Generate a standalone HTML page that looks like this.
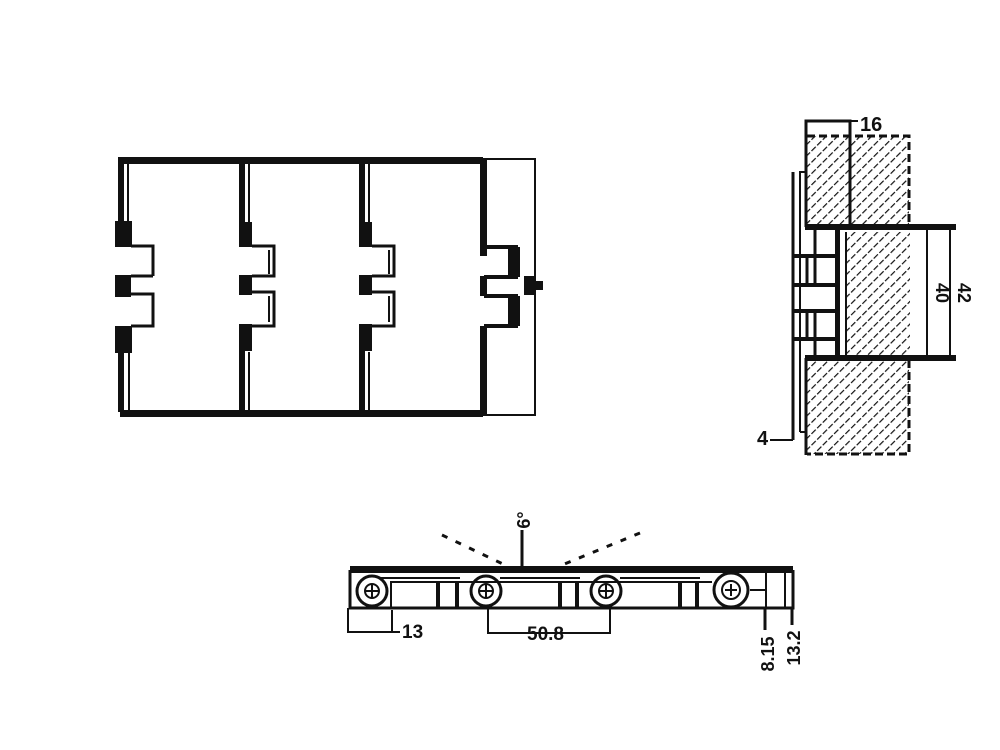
<!DOCTYPE html>
<html><head><meta charset="utf-8"><style>
html,body{margin:0;padding:0;background:#fff;}
svg{display:block}
text{font-family:"Liberation Sans",sans-serif;font-weight:bold;fill:#111}
</style></head><body>
<svg width="1000" height="750" viewBox="0 0 1000 750" xmlns="http://www.w3.org/2000/svg">
<defs>
<pattern id="h" width="8" height="8" patternUnits="userSpaceOnUse" patternTransform="rotate(45)">
<line x1="0" y1="0" x2="0" y2="8" stroke="#111" stroke-width="2.4" stroke-dasharray="5 2"/>
</pattern>
</defs>
<g stroke="#111" fill="none">
<!-- TOP VIEW -->
<rect x="118" y="157" width="365" height="7" fill="#111" stroke="none"/>
<rect x="120" y="410" width="363" height="7" fill="#111" stroke="none"/>
<line x1="483" y1="159" x2="536" y2="159" stroke-width="2"/>
<line x1="483" y1="415" x2="536" y2="415" stroke-width="2"/>
<line x1="535" y1="160" x2="535" y2="415" stroke-width="2"/>
<rect x="524" y="276" width="10" height="19" fill="#111" stroke="none"/>
<rect x="534" y="281" width="9" height="9" fill="#111" stroke="none"/>
<!-- left column -->
<rect x="118" y="160" width="6" height="62" fill="#111" stroke="none"/>
<line x1="128" y1="164" x2="128" y2="222" stroke-width="2"/>
<rect x="115" y="221" width="17" height="26" fill="#111" stroke="none"/>
<path d="M131 246 H153 V276 M131 294 H153 V326 H131" stroke-width="3"/>
<rect x="115" y="275" width="16" height="22" fill="#111" stroke="none"/>
<rect x="115" y="326" width="17" height="27" fill="#111" stroke="none"/>
<rect x="118" y="350" width="6" height="62" fill="#111" stroke="none"/>
<line x1="129" y1="352" x2="129" y2="410" stroke-width="2"/>
<line x1="131" y1="276" x2="153" y2="276" stroke-width="3"/>
<!-- columns 2,3 -->
<g id="c2">
<rect x="239" y="160" width="6" height="62" fill="#111" stroke="none"/>
<line x1="249" y1="164" x2="249" y2="222" stroke-width="2"/>
<rect x="239" y="222" width="13" height="25" fill="#111" stroke="none"/>
<path d="M252 246 H274 V276 H252 M252 292 H274 V326 H252" stroke-width="3"/>
<line x1="269" y1="250" x2="269" y2="274" stroke-width="2"/>
<line x1="269" y1="296" x2="269" y2="322" stroke-width="2"/>
<rect x="239" y="275" width="13" height="20" fill="#111" stroke="none"/>
<rect x="239" y="324" width="13" height="27" fill="#111" stroke="none"/>
<rect x="239" y="350" width="6" height="62" fill="#111" stroke="none"/>
<line x1="249" y1="352" x2="249" y2="410" stroke-width="2"/>
</g>
<use href="#c2" x="120"/>
<!-- column 4 -->
<rect x="480" y="160" width="7" height="96" fill="#111" stroke="none"/>
<path d="M484 247 H516 V277 H484 M484 296 H516 V326 H484" stroke-width="4"/>
<rect x="508" y="247" width="12" height="30" fill="#111" stroke="none"/>
<rect x="508" y="296" width="12" height="30" fill="#111" stroke="none"/>
<rect x="480" y="276" width="7" height="20" fill="#111" stroke="none"/>
<rect x="480" y="326" width="7" height="88" fill="#111" stroke="none"/>

<!-- SIDE VIEW -->
<rect x="807" y="136" width="102" height="91" fill="url(#h)" stroke="none"/>
<rect x="846" y="232" width="64" height="126" fill="url(#h)" stroke="none"/>
<rect x="807" y="360" width="102" height="94" fill="url(#h)" stroke="none"/>
<path d="M807 136 H909 V227 M909 360 V454 H807" stroke-dasharray="8 4" stroke-width="3"/>
<path d="M806 227 V121 H850 V227" stroke-width="3"/>
<line x1="850" y1="121" x2="858" y2="121" stroke-width="2"/>
<line x1="806" y1="358" x2="806" y2="455" stroke-width="3"/>
<rect x="805" y="224" width="151" height="6" fill="#111" stroke="none"/>
<rect x="805" y="355" width="151" height="6" fill="#111" stroke="none"/>
<rect x="835" y="230" width="5" height="126" fill="#111" stroke="none"/>
<line x1="846" y1="232" x2="846" y2="356" stroke-width="2"/>
<path d="M800 432 V172 H806" stroke-width="2"/>
<line x1="793" y1="172" x2="793" y2="440" stroke-width="3"/>
<path d="M793 440 H770" stroke-width="2"/>
<line x1="800" y1="432" x2="806" y2="432" stroke-width="2"/>
<g stroke-width="4">
<line x1="793" y1="256" x2="838" y2="256"/>
<line x1="793" y1="285" x2="838" y2="285"/>
<line x1="793" y1="311" x2="838" y2="311"/>
<line x1="793" y1="339" x2="838" y2="339"/>
</g>
<g stroke-width="3">
<line x1="807" y1="256" x2="807" y2="285"/><line x1="815" y1="256" x2="815" y2="285"/>
<line x1="807" y1="311" x2="807" y2="339"/><line x1="815" y1="311" x2="815" y2="339"/>
<line x1="815" y1="230" x2="815" y2="256"/><line x1="815" y1="339" x2="815" y2="356"/>
</g>
<line x1="927" y1="230" x2="927" y2="356" stroke-width="2"/>
<line x1="950" y1="230" x2="950" y2="356" stroke-width="2"/>
<!-- BOTTOM VIEW -->
<rect x="350" y="566" width="443" height="7" fill="#111" stroke="none"/>
<path d="M350 570 V608 H793 V570" stroke-width="3"/>
<line x1="380" y1="578" x2="460" y2="578" stroke-width="2"/>
<line x1="500" y1="578" x2="580" y2="578" stroke-width="2"/>
<line x1="620" y1="578" x2="700" y2="578" stroke-width="2"/>
<line x1="390" y1="582" x2="712" y2="582" stroke-width="2"/>
<g stroke-width="4">
<line x1="438" y1="582" x2="438" y2="608"/><line x1="457" y1="582" x2="457" y2="608"/>
<line x1="560" y1="582" x2="560" y2="608"/><line x1="577" y1="582" x2="577" y2="608"/>
<line x1="680" y1="582" x2="680" y2="608"/><line x1="697" y1="582" x2="697" y2="608"/>
<line x1="391" y1="582" x2="391" y2="608" stroke-width="2"/>
</g>
<g stroke-width="3">
<circle cx="372" cy="591" r="15"/><circle cx="486" cy="591" r="15"/>
<circle cx="606" cy="591" r="15"/><circle cx="731" cy="590" r="17"/>
<circle cx="731" cy="590" r="9" stroke-width="2"/>
</g>
<g stroke-width="2">
<path d="M366 591 H378 M372 585 V597 M480 591 H492 M486 585 V597 M600 591 H612 M606 585 V597 M725 590 H737 M731 584 V596"/>
<circle cx="372" cy="591" r="7"/><circle cx="486" cy="591" r="7"/><circle cx="606" cy="591" r="7"/>
</g>
<path d="M766 573 V590 H750 M766 608 V573" stroke-width="2"/>
<line x1="785" y1="573" x2="785" y2="608" stroke-width="2"/>
<!-- dims -->
<path d="M348 608 V632 H400 M392 610 V632" stroke-width="2"/>
<path d="M488 608 V633 H610 V608" stroke-width="2"/>
<line x1="765" y1="608" x2="765" y2="630" stroke-width="3"/>
<line x1="792" y1="608" x2="792" y2="625" stroke-width="3"/>
<line x1="522" y1="530" x2="522" y2="566" stroke-width="3"/>
<path d="M442 535 L505 565 M640 533 L562 565" stroke-width="3" stroke-dasharray="6 9"/>
</g>
<text x="860" y="131" font-size="20">16</text>
<text x="757" y="445" font-size="20">4</text>
<text x="402" y="638" font-size="19">13</text>
<text x="527" y="640" font-size="19">50.8</text>
<text transform="translate(936,293) rotate(90)" font-size="18" text-anchor="middle">40</text>
<text transform="translate(958,293) rotate(90)" font-size="18" text-anchor="middle">42</text>
<text transform="translate(774,654) rotate(-90)" font-size="18" text-anchor="middle">8.15</text>
<text transform="translate(800,648) rotate(-90)" font-size="18" text-anchor="middle">13.2</text>
<text transform="translate(530,520) rotate(-90)" font-size="18" text-anchor="middle">6°</text>
</svg>
</body></html>
